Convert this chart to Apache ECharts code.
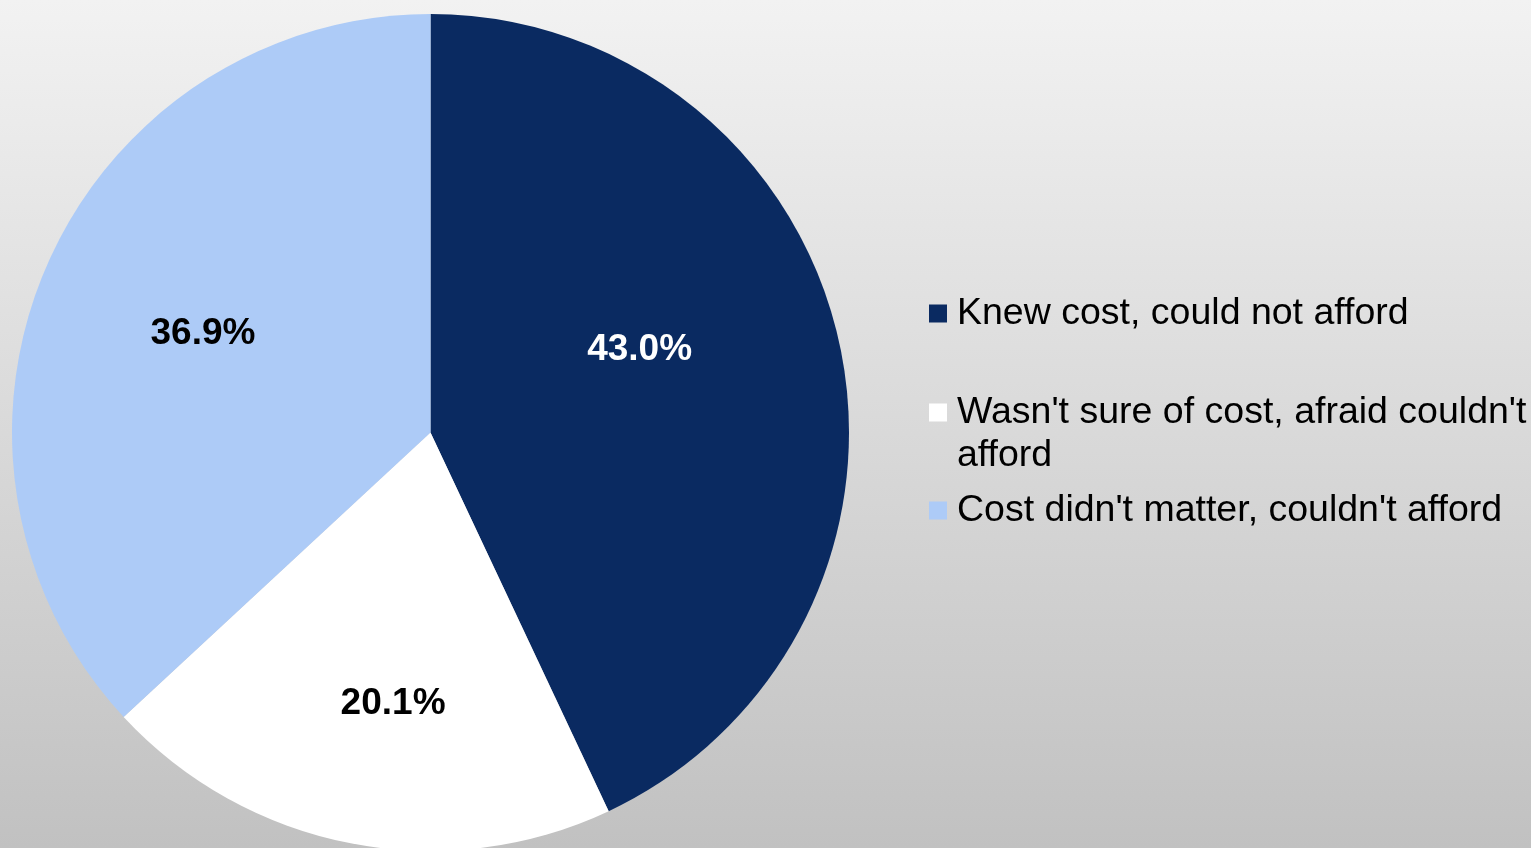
<!DOCTYPE html>
<html>
<head>
<meta charset="utf-8">
<title>Cost and affordability</title>
<script src="https://cdn.jsdelivr.net/npm/echarts@6/dist/echarts.min.js"></script>
<style>
  html, body { margin: 0; padding: 0; width: 100%; height: 100%; overflow: hidden; }
  #chart { width: 1531px; height: 848px; }
</style>
</head>
<body>
<div id="chart"></div>
<script>
// Responses (percent of respondents)
const categories = [
  "Knew cost, could not afford",
  "Wasn't sure of cost, afraid couldn't afford",
  "Cost didn't matter, couldn't afford"
];
const shares = [43.0, 20.1, 36.9];

// Legend text lines as displayed (second entry wraps onto two lines)
const legendLines = [
  ["Knew cost, could not afford"],
  ["Wasn't sure of cost, afraid couldn't", "afford"],
  ["Cost didn't matter, couldn't afford"]
];

const sliceColors = ['#0a2a61', '#ffffff', '#adcbf7'];
const labelColors = ['#ffffff', '#000000', '#000000'];
// Nudges that move each percentage away from the default inside spot
const labelNudges = [[2, -36], [3, 63], [-33, -14]];
// Vertical placement of each legend entry
const legendTops = [292, 348, 489];

const FONT = "'Liberation Sans', Arial, Helvetica, sans-serif";
const LINE_H = 43;
const LEGEND_SIZE = 37.5;

const chart = echarts.init(document.getElementById('chart'), null, { renderer: 'canvas' });

const pieData = categories.map((name, i) => ({
  name: name,
  value: shares[i],
  itemStyle: { color: sliceColors[i] },
  label: { color: labelColors[i], offset: labelNudges[i] }
}));

// Multi-line entries get an empty leading line so the swatch sits beside the first line
function legendFormatter(i) {
  const lines = legendLines[i].map(s => '{t|' + s + '}');
  if (lines.length > 1) lines.unshift('');
  return lines.join('\n');
}

const legends = categories.map((name, i) => ({
  data: [name],
  orient: 'vertical',
  left: 929,
  top: legendTops[i],
  padding: 0,
  itemWidth: 18,
  itemHeight: 18,
  itemGap: 0,
  icon: 'rect',
  selectedMode: false,
  formatter: () => legendFormatter(i),
  textStyle: {
    fontFamily: FONT,
    fontSize: LEGEND_SIZE,
    lineHeight: LINE_H,
    color: '#000000',
    rich: {
      t: {
        fontFamily: FONT,
        fontSize: LEGEND_SIZE,
        lineHeight: LINE_H,
        color: '#000000',
        padding: [0, 0, 0, 5]
      }
    }
  }
}));

chart.setOption({
  animation: false,
  backgroundColor: {
    type: 'linear', x: 0, y: 0, x2: 0, y2: 1,
    colorStops: [
      { offset: 0, color: '#f2f2f2' },
      { offset: 1, color: '#c1c1c1' }
    ]
  },
  legend: legends,
  series: [{
    type: 'pie',
    center: [430.5, 432.5],
    radius: 418.5,
    startAngle: 90,
    clockwise: true,
    avoidLabelOverlap: false,
    label: {
      show: true,
      position: 'inside',
      fontFamily: FONT,
      fontSize: 37,
      fontWeight: 'bold',
      formatter: p => p.value.toFixed(1) + '%'
    },
    labelLine: { show: false },
    itemStyle: { borderWidth: 0 },
    emphasis: { disabled: true },
    data: pieData
  }]
});
</script>
</body>
</html>
